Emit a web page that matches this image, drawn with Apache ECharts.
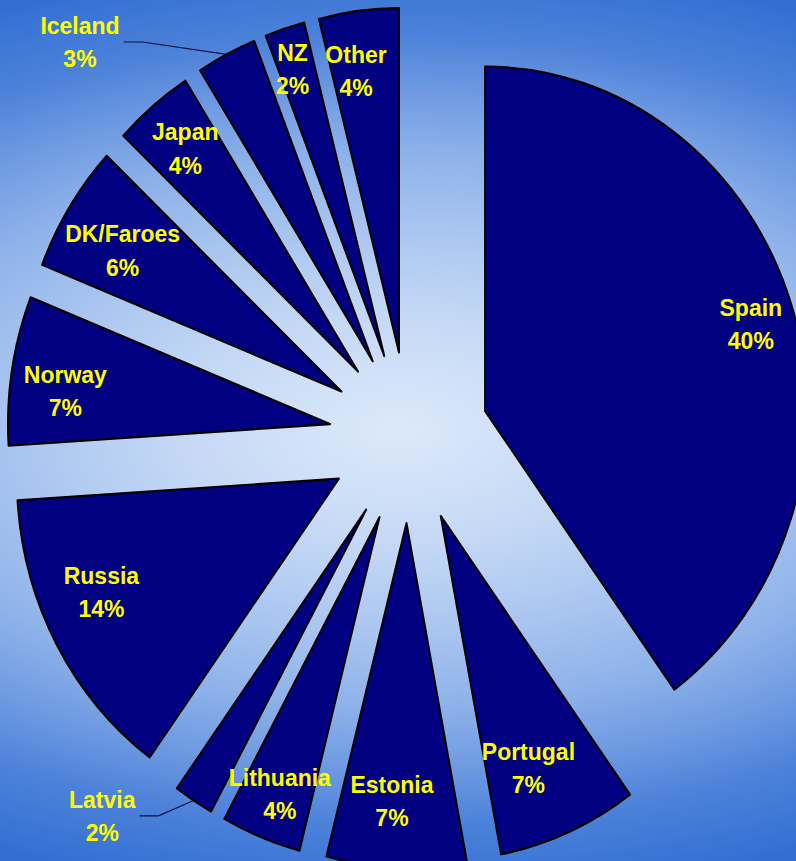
<!DOCTYPE html>
<html>
<head>
<meta charset="utf-8">
<script src="https://cdn.jsdelivr.net/npm/echarts@6/dist/echarts.min.js"></script>
<style>
html, body { margin: 0; padding: 0; width: 796px; height: 861px; overflow: hidden; }
body {
  background: radial-gradient(ellipse 890px 470px at 398px 430px,
    #dde9fa 0%, #c4d8f5 25%, #a6c3ef 45%, #8bb0e9 60%, #6f9ae2 72%, #4c82d9 84%, #336fd3 100%);
}
#chart { width: 796px; height: 805px; transform: scaleY(1.0696); transform-origin: 0 0; }
</style>
</head>
<body>
<div id="chart"></div>
<script>
// ---- data ----
const countries = ['Spain', 'Portugal', 'Estonia', 'Lithuania', 'Latvia', 'Russia',
                   'Norway', 'DK/Faroes', 'Japan', 'Iceland', 'NZ', 'Other'];
const shares = [40, 7, 7, 4, 2, 14, 7, 6, 4, 3, 2, 4];
const outsideLabelNames = ['Iceland', 'Latvia'];

// ---- styles ----
const FONT = "'Liberation Sans', Arial, sans-serif";
const labelText = {
  color: '#ffff00', fontFamily: FONT, fontWeight: 'bold', fontSize: 23, lineHeight: 31, align: 'center'
};
const fmt = p => `{c|${p.name}}\n{c|${p.value}%}`;
const leaderLines = {
  Iceland: { length: 13, length2: 97 },
  Latvia: { length: 17, length2: 45 }
};
const leaderTail = 19;           // horizontal part of the leader line next to the label
const labelNudge = {              // fine placement of the inside labels (px)
  'Spain': [8, 2], 'Portugal': [-20, -13], 'Estonia': [-6, -11], 'Lithuania': [0, 7],
  'Russia': [0, -25], 'Norway': [3, 11], 'DK/Faroes': [10, 13], 'Japan': [0, 0],
  'NZ': [-8, -11], 'Other': [-9, 5]
};

const chart = echarts.init(document.getElementById('chart'), null, { renderer: 'svg' });

const sliceData = countries.map((name, i) => {
  const outside = outsideLabelNames.includes(name);
  return {
    name, value: shares[i], selected: true,
    label: { show: outside },
    labelLine: outside ? Object.assign({ show: true }, leaderLines[name]) : { show: false }
  };
});

const labelData = countries.map((name, i) => ({
  name, value: shares[i], selected: true,
  label: { show: !outsideLabelNames.includes(name) }
}));

const common = {
  type: 'pie',
  center: [409, 409],
  startAngle: 90,
  clockwise: true,
  selectedMode: 'multiple',
  selectedOffset: 80,
  animation: false,
  avoidLabelOverlap: false,
  emphasis: { disabled: true }
};

chart.setOption({
  backgroundColor: 'transparent',
  animation: false,
  series: [
    Object.assign({}, common, {
      radius: [0, 322],
      itemStyle: { color: '#000080', borderColor: '#000000', borderWidth: 2 },
      select: { itemStyle: { color: '#000080', borderColor: '#000000', borderWidth: 2 } },
      label: {
        show: false, position: 'outside', formatter: fmt, distanceToLabelLine: 4,
        rich: { c: labelText }
      },
      labelLine: { show: false, lineStyle: { color: '#101040', width: 1 } },
      labelLayout: p => {
        const pts = p.labelLinePoints;
        if (!pts || pts.length < 3) return { hideOverlap: false };
        const dir = pts[2][0] < pts[1][0] ? 1 : -1;
        return {
          hideOverlap: false,
          labelLinePoints: [pts[0], [pts[2][0] + dir * leaderTail, pts[2][1]], pts[2]]
        };
      },
      data: sliceData
    }),
    Object.assign({}, common, {
      radius: [214, 322],
      silent: true,
      itemStyle: { color: 'rgba(0,0,0,0)', borderWidth: 0 },
      select: { itemStyle: { color: 'rgba(0,0,0,0)', borderWidth: 0 } },
      label: { show: true, position: 'inside', formatter: fmt, rich: { c: labelText } },
      labelLine: { show: false },
      labelLayout: p => {
        const n = labelNudge[countries[p.dataIndex]] || [0, 0];
        return { hideOverlap: false, dx: n[0], dy: n[1] };
      },
      data: labelData
    })
  ]
});
</script>
</body>
</html>
